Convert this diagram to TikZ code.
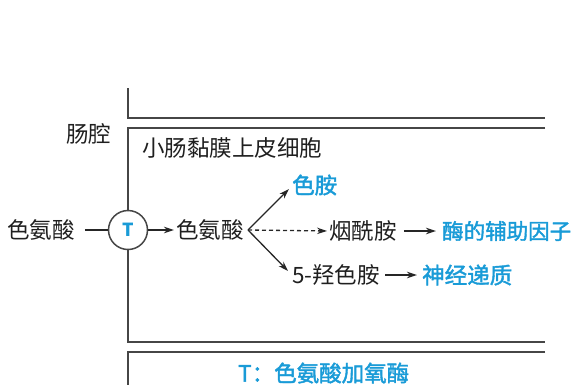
\documentclass[tikz,border=0pt]{standalone}
\usepackage{fontspec}
\setmainfont{Noto Sans CJK SC}
\newfontfamily\cjkb{Noto Sans CJK SC}[FakeBold=1.8]
\usetikzlibrary{arrows.meta}
\definecolor{bl}{RGB}{25,155,215}
\definecolor{ln}{RGB}{70,70,70}
\tikzset{
  txt/.style={inner sep=0pt, anchor=west, font=\fontsize{22.5}{23}\selectfont, text=black!88},
  btxt/.style={inner sep=0pt, anchor=west, font=\fontsize{22.5}{23}\selectfont\cjkb, text=bl},
  wall/.style={draw=ln, line width=1.5pt},
  arr/.style={draw=black!85, line width=1.3pt, -{Stealth[length=10pt,width=6.5pt]}},
  darr/.style={arr, dash pattern=on 4pt off 3pt},
}
\begin{document}
\begin{tikzpicture}[x=1pt,y=-1pt]
\useasboundingbox (0,0) rectangle (575,384);
\draw[wall] (128,88) -- (128,118) -- (545,118);
\draw[wall] (545,128) -- (128,128) -- (128,342) -- (545,342);
\draw[wall] (545,352) -- (128,352) -- (128,390);
\node[txt] (lumen) at (66,134) {肠腔};
\node[txt] (cell) at (142,148) {小肠黏膜上皮细胞};
\node[circle, draw=ln, line width=1.5pt, fill=white, minimum size=39pt, inner sep=0pt,
  font=\fontsize{18}{18}\selectfont\bfseries, text=bl] (T) at (128,230) {T};
\node[txt] (trpo) at (7,230) {色氨酸};
\node[txt] (trpi) at (176,230) {色氨酸};
\coordinate (b) at (248,230);
\node[btxt] (tra) at (292,185) {色胺};
\node[txt] (nia) at (329,231) {烟酰胺};
\node[btxt, font=\fontsize{21.5}{22}\selectfont\cjkb] (cof) at (442,231) {酶的辅助因子};
\node[txt] (ht) at (292,275) {5-羟色胺};
\node[btxt] (neu) at (422,275) {神经递质};
\node[btxt] (leg) at (238,373) {T：色氨酸加氧酶};
\draw[line width=1.3pt, draw=black!85, shorten <=10pt] (trpo.east) -- (T.west);
\draw[arr, shorten >=2pt] (T.east) -- (trpi.west);
\draw[arr] (b) -- (289,189);
\draw[arr] (b) -- (288,271);
\draw[darr, shorten >=2pt] (b) -- (nia.west);
\draw[arr, shorten <=7pt, shorten >=6pt] (nia.east) -- (cof.west |- nia.east);
\draw[arr, shorten <=5pt, shorten >=5pt] (ht.east) -- (neu.west);
\end{tikzpicture}
\end{document}
